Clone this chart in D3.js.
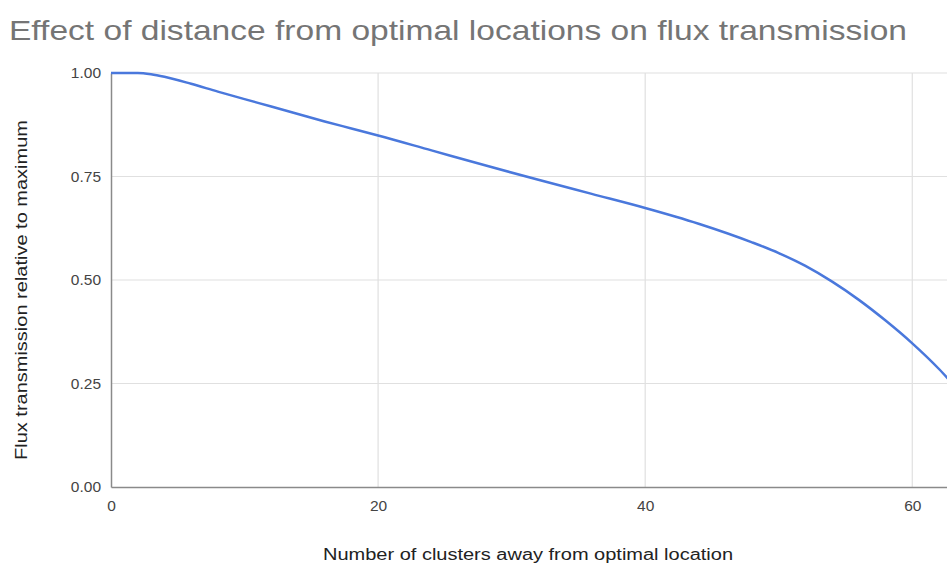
<!DOCTYPE html>
<html><head><meta charset="utf-8">
<script src="https://cdn.jsdelivr.net/npm/d3@7"></script>
<style>body{margin:0;background:#fff;} svg{display:block;font-family:"Liberation Sans",Arial,sans-serif;}</style>
</head><body><svg id="c" width="947" height="570"></svg>
<script>
const xValues = [0,2,3,4,6,8,10,12,14,16,18,20,24,28,32,36,40,44,48,50,52,54,56,58,60,62,63];
const yValues = [1.0,1.0,0.997,0.991,0.974,0.955,0.937,0.919,0.901,0.883,0.866,0.849,0.813,0.777,0.742,0.708,0.674,0.636,0.591,0.565,0.534,0.496,0.452,0.402,0.347,0.285,0.25];
const xTicks = [0,20,40,60];
const yTicks = [0,0.25,0.5,0.75,1.0];
const title = "Effect of distance from optimal locations on flux transmission";
const xTitle = "Number of clusters away from optimal location";
const yTitle = "Flux transmission relative to maximum";

const svg = d3.select("#c");
const L = 111, R = 947, T = 73, B = 487;
const x = d3.scaleLinear().domain([0, 62.6]).range([L, R]);
const y = d3.scaleLinear().domain([0, 1]).range([B, T]);

svg.append("text").attr("x", 9).attr("y", 40).attr("font-size", 28).attr("fill", "#757575")
  .attr("textLength", 898).attr("lengthAdjust", "spacingAndGlyphs").text(title);

// grid
svg.append("g").selectAll("line").data(yTicks.filter(d => d > 0)).join("line")
  .attr("x1", L).attr("x2", R).attr("y1", d => y(d)).attr("y2", d => y(d))
  .attr("stroke", "#e0e0e0").attr("stroke-width", 1.2);
svg.append("g").selectAll("line").data(xTicks.filter(d => d > 0)).join("line")
  .attr("y1", T).attr("y2", B).attr("x1", d => x(d)).attr("x2", d => x(d))
  .attr("stroke", "#e0e0e0").attr("stroke-width", 1.2);

// axes
const xa = svg.append("g").attr("transform", `translate(0,${B})`)
  .call(d3.axisBottom(x).tickValues(xTicks).tickSize(0).tickPadding(13).tickFormat(d3.format("d")));
xa.select(".domain").attr("stroke", "#8a8a8a").attr("stroke-width", 1.5);
xa.selectAll("text").attr("font-size", 15.5).attr("fill", "#444").attr("font-family", "Liberation Sans, Arial, sans-serif");

const ya = svg.append("g").attr("transform", `translate(${L},0)`)
  .call(d3.axisLeft(y).tickValues(yTicks).tickSize(0).tickPadding(10).tickFormat(d3.format(".2f")));
ya.select(".domain").attr("stroke", "#8a8a8a").attr("stroke-width", 1.5);
ya.selectAll("text").attr("font-size", 15.5).attr("fill", "#444").attr("font-family", "Liberation Sans, Arial, sans-serif");

svg.append("defs").append("clipPath").attr("id", "clip").append("rect")
  .attr("x", L).attr("y", T - 5).attr("width", R - L).attr("height", B - T + 10);

const pts = xValues.map((v, i) => [v, yValues[i]]);
svg.append("path").datum(pts).attr("clip-path", "url(#clip)")
  .attr("fill", "none").attr("stroke", "#4a78dc").attr("stroke-width", 2.5)
  .attr("d", d3.line().x(d => x(d[0])).y(d => y(d[1])).curve(d3.curveMonotoneX));

svg.append("text").attr("x", 528).attr("y", 560).attr("text-anchor", "middle")
  .attr("font-size", 16).attr("fill", "#222")
  .attr("textLength", 410).attr("lengthAdjust", "spacingAndGlyphs").text(xTitle);
svg.append("text").attr("transform", "translate(27,290) rotate(-90)").attr("text-anchor", "middle")
  .attr("font-size", 16).attr("fill", "#222")
  .attr("textLength", 340).attr("lengthAdjust", "spacingAndGlyphs").text(yTitle);
</script></body></html>
